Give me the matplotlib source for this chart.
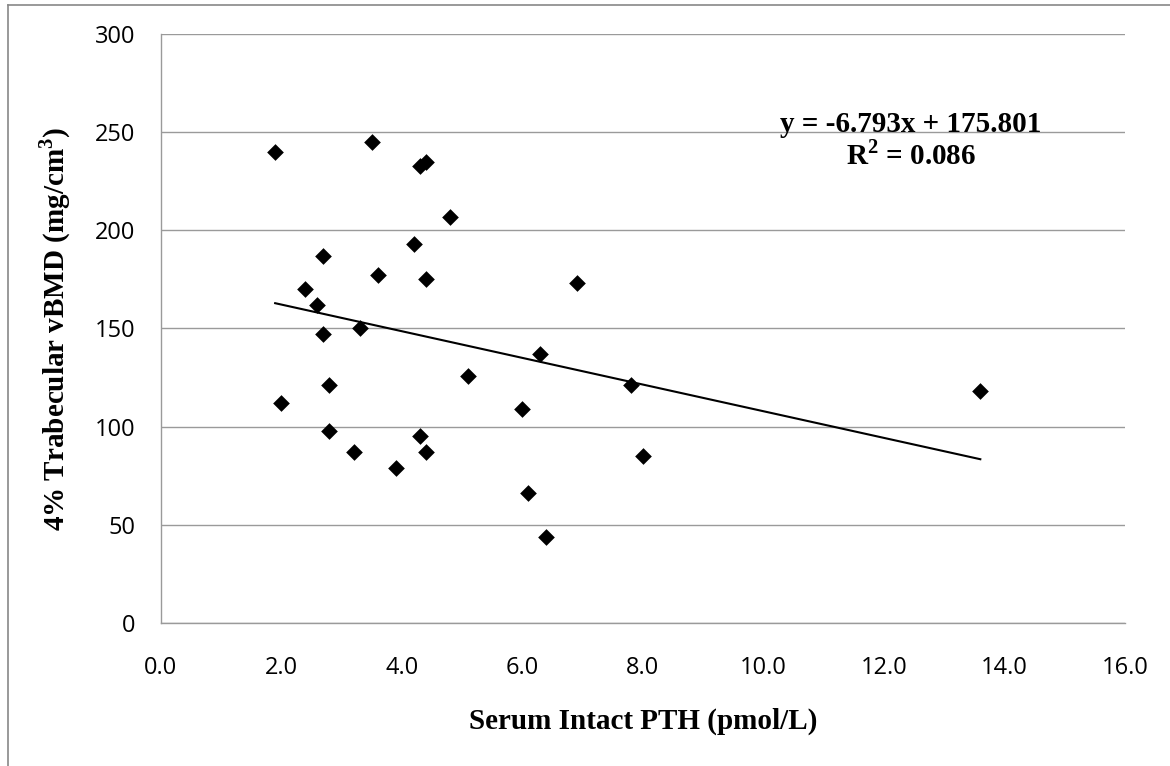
import numpy as np
import matplotlib.pyplot as plt
from matplotlib.lines import Line2D

# serum intact PTH (pmol/L) vs 4% trabecular vBMD (mg/cm3)
pth = [1.9, 3.5, 4.3, 4.4, 4.8, 2.7, 4.2, 3.6, 4.4, 2.4, 2.6, 3.3, 2.7, 5.1, 2.8,
       2.0, 2.8, 4.3, 3.2, 4.4, 3.9, 6.9, 6.3, 7.8, 6.0, 8.0, 6.1, 6.4, 13.6]
vbmd = [240, 245, 233, 235, 207, 187, 193, 177, 175, 170, 162, 150, 147, 126, 121,
        112, 98, 95, 87, 87, 79, 173, 137, 121, 109, 85, 66, 44, 118]

slope = -6.793
intercept = 175.801
r2 = 0.086

xticks = [0, 2, 4, 6, 8, 10, 12, 14, 16]
yticks = [0, 50, 100, 150, 200, 250, 300]

serif = ['Liberation Serif', 'DejaVu Serif']
sans = ['Open Sans', 'DejaVu Sans']

# superscripts in bold Times-like font
plt.rcParams['mathtext.fontset'] = 'custom'
plt.rcParams['mathtext.rm'] = 'Liberation Serif:bold'
plt.rcParams['mathtext.bf'] = 'Liberation Serif:bold'

fig = plt.figure(figsize=(11.7, 7.66), dpi=100)
ax = fig.add_axes([0.1373, 0.1867, 0.9615 - 0.1373, 0.9556 - 0.1867])

grid_c = '#9a9a9a'
ax.set_axisbelow(True)
ax.grid(axis='y', color=grid_c, linewidth=1.0)

ax.scatter(pth, vbmd, marker='D', s=8.5 ** 2, color='black', zorder=3, linewidths=0)

xs = np.array([min(pth), max(pth)])
ax.plot(xs, slope * xs + intercept, color='black', linewidth=1.5, zorder=2)

ax.set_xlim(0, 16)
ax.set_ylim(0, 300)
ax.set_xticks(xticks)
ax.set_yticks(yticks)
ax.set_xticklabels(['%.1f' % v for v in xticks], family=sans, fontsize=17)
ax.set_yticklabels([str(v) for v in yticks], family=sans, fontsize=17)
ax.tick_params(length=0)
ax.tick_params(axis='x', pad=24)
ax.tick_params(axis='y', pad=18)

for s in ['top', 'right']:
    ax.spines[s].set_visible(False)
for s in ['left', 'bottom']:
    ax.spines[s].set_color(grid_c)
    ax.spines[s].set_linewidth(1.0)

ax.set_xlabel('Serum Intact PTH (pmol/L)', family=serif, fontsize=21,
              fontweight='bold', labelpad=20)
ax.set_ylabel('4% Trabecular vBMD (mg/cm$^{\\mathbf{3}}$)', family=serif, fontsize=21,
              fontweight='bold', labelpad=16)

eq = 'y = %.3fx + %.3f\nR$^{\\mathbf{2}}$ = %.3f' % (slope, intercept, r2)
ax.text(12.45, 245.5, eq, family=serif, fontsize=21, fontweight='bold',
        ha='center', va='center', linespacing=1.1)

# outer chart border (only left and top visible in the crop)
fig.add_artist(Line2D([8 / 1170, 8 / 1170], [0, 1 - 5 / 766], color='#888888',
                      linewidth=1.2, transform=fig.transFigure))
fig.add_artist(Line2D([8 / 1170, 1], [1 - 5 / 766, 1 - 5 / 766], color='#888888',
                      linewidth=1.2, transform=fig.transFigure))

fig.savefig('out.png', dpi=100)
